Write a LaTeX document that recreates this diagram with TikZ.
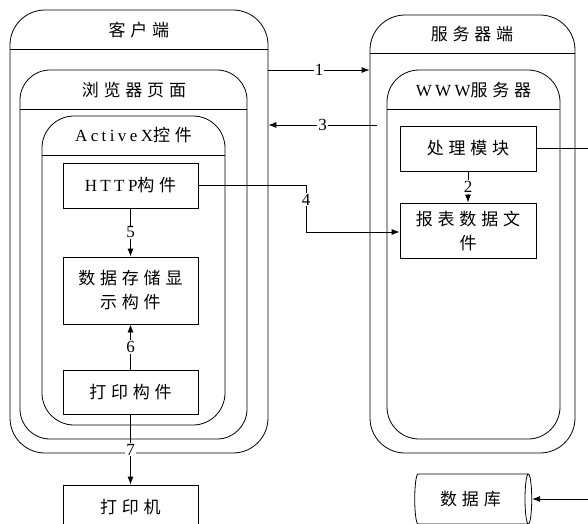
\documentclass[tikz,border=0pt]{standalone}
\usepackage{fontspec}
\setmainfont{Liberation Serif}[LetterSpace=20]
\newfontfamily\zh{Noto Sans CJK SC}[LetterSpace=28]
\newfontfamily\numfont{Liberation Serif}
\usetikzlibrary{calc,arrows.meta,shapes.geometric}

\tikzset{
  box/.style={draw,line width=0.8pt,minimum width=135pt,align=center,
    font=\fontsize{17}{24}\selectfont,inner sep=2pt},
  cont/.style={draw,line width=0.8pt,rounded corners=#1},
  head/.style={font=\fontsize{17}{20}\selectfont},
  arr/.style={line width=0.8pt,-{Latex[length=8pt,width=6pt]}},
  lbl/.style={fill=white,inner sep=1pt,font=\numfont\fontsize{17}{17}\selectfont}
}

\begin{document}
\begin{tikzpicture}[x=1pt,y=-1pt]
\useasboundingbox (0,0) rectangle (588,523);

% client side
\node[cont=35pt,minimum width=258pt,minimum height=443pt] (client) at (139,231.5) {};
\draw[line width=0.8pt] (10,49) -- (268,49);
\node[head] (clienthd) at (139,30) {\zh 客户端};
\node[cont=30pt,minimum width=227pt,minimum height=369pt] (page) at (133.5,254.5) {};
\draw[line width=0.8pt] (20,109) -- (247,109);
\node[head] (pagehd) at (134,90) {\zh 浏览器页面};
\node[cont=32pt,minimum width=183pt,minimum height=309pt] (activex) at (133.5,270.5) {};
\draw[line width=0.8pt] (42,155) -- (225,155);
\node[head] (activexhd) at (133.5,135) {ActiveX{\zh 控件}};

\node[box,minimum height=45pt] (http) at (130.5,185.5) {HTTP{\zh 构件}};
\node[box,minimum height=67pt] (data) at (130.5,290.5) {\zh 数据存储显\\\zh 示构件};
\node[box,minimum height=44pt] (print) at (130.5,392) {\zh 打印构件};
\node[box,minimum height=45pt] (printer) at (130.5,507.5) {\zh 打印机};

% server side
\node[cont=35pt,minimum width=205pt,minimum height=438pt] (server) at (472.5,234) {};
\draw[line width=0.8pt] (370,53) -- (575,53);
\node[head] (serverhd) at (472,34) {\zh 服务器端};
\node[cont=32pt,minimum width=173pt,minimum height=369pt] (www) at (473.5,254.5) {};
\draw[line width=0.8pt] (387,109) -- (560,109);
\node[head] (wwwhd) at (473.5,90) {WWW{\zh 服务器}};

\node[box,minimum width=136pt,minimum height=45pt] (proc) at (468,148.5) {\zh 处理模块};
\node[box,minimum width=136pt,minimum height=55pt] (report) at (468,230.5) {\zh 报表数据文\\\zh 件};

\node[cylinder,draw,line width=0.8pt,minimum width=50pt,minimum height=117pt,
  aspect=0.3,font=\fontsize{17}{20}\selectfont] (db) at (470.5,499) {\zh 数据库};

% connectors
\coordinate (s3) at (377,125);
\coordinate (k4) at (306,232);
\coordinate (r1) at (600,148.5);

\draw[arr] (client.east |- 0,70) -- node[lbl]{1} (server.west |- 0,70);
\draw[arr] (proc) -- node[lbl]{2} (report);
\draw[arr] (s3) -- node[lbl]{3} (client.east |- s3);
\draw[arr] (http.east) -| node[lbl,pos=0.65]{4} (k4) -- (report.west |- k4);
\draw[arr] (http) -- node[lbl]{5} (data);
\draw[arr] (print) -- node[lbl]{6} (data);
\draw[arr] (print) -- node[lbl]{7} (printer);
\draw[arr] (proc.east) -- (r1) |- (db.east);
\end{tikzpicture}
\end{document}
